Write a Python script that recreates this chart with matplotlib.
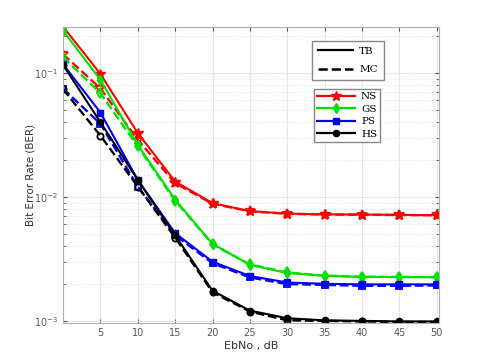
import numpy as np
import matplotlib.pyplot as plt
from matplotlib.lines import Line2D

ebno = [0, 5, 10, 15, 20, 25, 30, 35, 40, 45, 50]

ns_tb = [0.236, 0.098, 0.0327, 0.0133, 0.0089, 0.00767, 0.00733, 0.00723, 0.0072, 0.00716, 0.00712]
ns_mc = [0.1415, 0.075, 0.0288, 0.0129, 0.0088, 0.00765, 0.00730, 0.00720, 0.00718, 0.00714, 0.00710]
gs_tb = [0.219, 0.0879, 0.0263, 0.0095, 0.00418, 0.00283, 0.00243, 0.00231, 0.00226, 0.00226, 0.00225]
gs_mc = [0.134, 0.0686, 0.0255, 0.0093, 0.00415, 0.00285, 0.00246, 0.00232, 0.00227, 0.00226, 0.00225]
ps_tb = [0.1175, 0.0479, 0.0137, 0.0051, 0.0030, 0.0023, 0.00204, 0.00199, 0.00197, 0.00197, 0.00197]
ps_mc = [0.0748, 0.0388, 0.0121, 0.0049, 0.00292, 0.00224, 0.00198, 0.00195, 0.00192, 0.00192, 0.00193]
hs_tb = [0.1160, 0.040, 0.0137, 0.0049, 0.00175, 0.00121, 0.00105, 0.00101, 0.00100, 0.00099, 0.00099]
hs_mc = [0.0739, 0.0312, 0.0121, 0.0047, 0.0017, 0.00119, 0.00101, 0.00100, 0.00099, 0.00098, 0.00098]

series = [
    ("NS", "red", "*", ns_tb, ns_mc, 7.5),
    ("GS", "#00e000", "d", gs_tb, gs_mc, 5),
    ("PS", "blue", "s", ps_tb, ps_mc, 4),
    ("HS", "black", "o", hs_tb, hs_mc, 4.5),
]

fig = plt.figure(figsize=(4.85, 3.63), dpi=100)
ax = fig.add_axes([0.13, 0.11, 0.775, 0.816])

for name, c, m, tb, mc, ms in series:
    ax.semilogy(ebno, mc, color=c, ls="--", lw=1.7, marker=m, ms=ms, mfc="none", mew=1.3)
    ax.semilogy(ebno, tb, color=c, ls="-", lw=1.5, marker=m, ms=ms, mew=1.0)

ax.set_xlim(0, 50.3)
ax.set_ylim(0.00096, 0.235)
ax.set_xticks([5, 10, 15, 20, 25, 30, 35, 40, 45, 50])
ax.grid(True, which="major", color="#e6e6e6", lw=0.8)
ax.grid(True, which="minor", color="#dddddd", lw=0.6, ls=":")
ax.tick_params(which="both", direction="in", top=True, right=True, colors="#555555", labelsize=7)
ax.tick_params(which="major", length=3)
ax.tick_params(which="minor", length=2)
for sp in ax.spines.values():
    sp.set_color("#b0b0b0")
ax.set_xlabel("EbNo , dB", fontsize=8, color="#333333", labelpad=2)
ax.set_ylabel("Bit Error Rate (BER)", fontsize=7.5, color="#333333", labelpad=-1)

serif = {"family": "DejaVu Serif", "size": 7.5}
h1 = [Line2D([], [], color="black", lw=1.6, ls="-"),
      Line2D([], [], color="black", lw=1.8, ls="--")]
leg1 = ax.legend(h1, ["TB", "MC"], loc="upper left", bbox_to_anchor=(0.662, 0.953),
                 prop=serif, fancybox=False, edgecolor="#888888", framealpha=1,
                 handlelength=3.4, labelspacing=0.9, borderpad=0.55, handletextpad=0.6,
                 borderaxespad=0)
ax.add_artist(leg1)
h2 = [Line2D([], [], color=c, lw=1.6, marker=m, ms=ms) for _, c, m, _, _, ms in series]
ax.legend(h2, [s[0] for s in series], loc="upper left", bbox_to_anchor=(0.668, 0.79),
          prop=serif, fancybox=False, edgecolor="#888888", framealpha=1,
          handlelength=3.6, labelspacing=0.3, borderpad=0.3, handletextpad=0.6,
          borderaxespad=0)

plt.savefig("out.png", dpi=100)
